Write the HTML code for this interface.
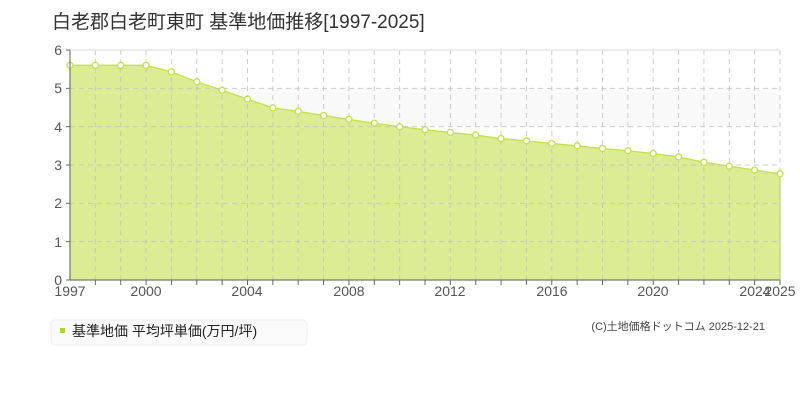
<!DOCTYPE html><html><head><meta charset="utf-8"><style>
body{margin:0;background:#fff;width:800px;height:400px;overflow:hidden;font-family:"Liberation Sans","Noto Sans CJK JP",sans-serif}
</style></head><body>
<svg width="800" height="400" xmlns="http://www.w3.org/2000/svg" font-family="Liberation Sans, Noto Sans CJK JP, sans-serif">
<text x="52" y="28" font-size="19" fill="#333">白老郡白老町東町 基準地価推移[1997-2025]</text>
<rect x="70" y="50" width="710" height="230" fill="#fff"/>
<rect x="70" y="88.3" width="710" height="38.3" fill="#f9f9fa"/>
<path id="area" fill="#dcec94" stroke="#c4e04a" stroke-width="1.3"/>
<g id="grid" stroke="#c0c0c0" stroke-opacity="0.8" stroke-dasharray="5,4" fill="none"></g>
<g id="dots" fill="#fff" stroke="#c4e04a" stroke-width="1.3"></g>
<line x1="70" y1="50" x2="780" y2="50" stroke="#ddd"/>
<line x1="70" y1="50" x2="70" y2="280" stroke="#666"/>
<line x1="70" y1="280" x2="780" y2="280" stroke="#666"/>
<g id="ticks" stroke="#666"></g>
<g font-size="14" fill="#555" text-anchor="end">
<text x="62" y="285">0</text><text x="62" y="247">1</text><text x="62" y="208">2</text><text x="62" y="170">3</text><text x="62" y="132">4</text><text x="62" y="93">5</text><text x="62" y="55">6</text>
</g>
<g font-size="14" fill="#555" text-anchor="middle">
<text x="70" y="296">1997</text><text x="146" y="296">2000</text><text x="247" y="296">2004</text><text x="349" y="296">2008</text><text x="450" y="296">2012</text><text x="552" y="296">2016</text><text x="653" y="296">2020</text><text x="755" y="296">2024</text><text x="780" y="296">2025</text>
</g>
<rect x="51" y="320" width="256" height="25" rx="4" fill="#fafafa" stroke="#eee"/>
<rect x="60" y="328" width="5" height="5" fill="#b5d42a"/>
<text x="72" y="336" font-size="14" fill="#222">基準地価 平均坪単価(万円/坪)</text>
<text x="765" y="330" font-size="11" fill="#444" text-anchor="end">(C)土地価格ドットコム 2025-12-21</text>
</svg>
<script>
var v=[5.6,5.6,5.6,5.6,5.43,5.17,4.95,4.72,4.49,4.4,4.29,4.19,4.09,4.0,3.92,3.85,3.78,3.69,3.63,3.56,3.5,3.43,3.37,3.3,3.21,3.07,2.97,2.87,2.77];
var ns="http://www.w3.org/2000/svg",dx=710/28,k=230/6;
function X(i){return 70+i*dx}function Y(a){return 280-a*k}
var g=document.getElementById('grid'),t=document.getElementById('ticks'),d=document.getElementById('dots');
function ln(p,a,b,c,e){var l=document.createElementNS(ns,'line');l.setAttribute('x1',a);l.setAttribute('y1',b);l.setAttribute('x2',c);l.setAttribute('y2',e);p.appendChild(l)}
for(var i=1;i<=28;i++){ln(g,X(i),50,X(i),280);ln(t,X(i),280,X(i),285)}
for(var j=1;j<6;j++){ln(g,70,Y(j),780,Y(j));ln(t,66,Y(j),70,Y(j))}
ln(t,66,50,70,50);ln(t,66,280,70,280);
var p='M70,280';for(i=0;i<29;i++){p+=' L'+X(i)+','+Y(v[i]);var c=document.createElementNS(ns,'circle');c.setAttribute('cx',X(i));c.setAttribute('cy',Y(v[i]));c.setAttribute('r',3);d.appendChild(c)}
p+=' L780,280 Z';document.getElementById('area').setAttribute('d',p);
</script>
</body></html>
